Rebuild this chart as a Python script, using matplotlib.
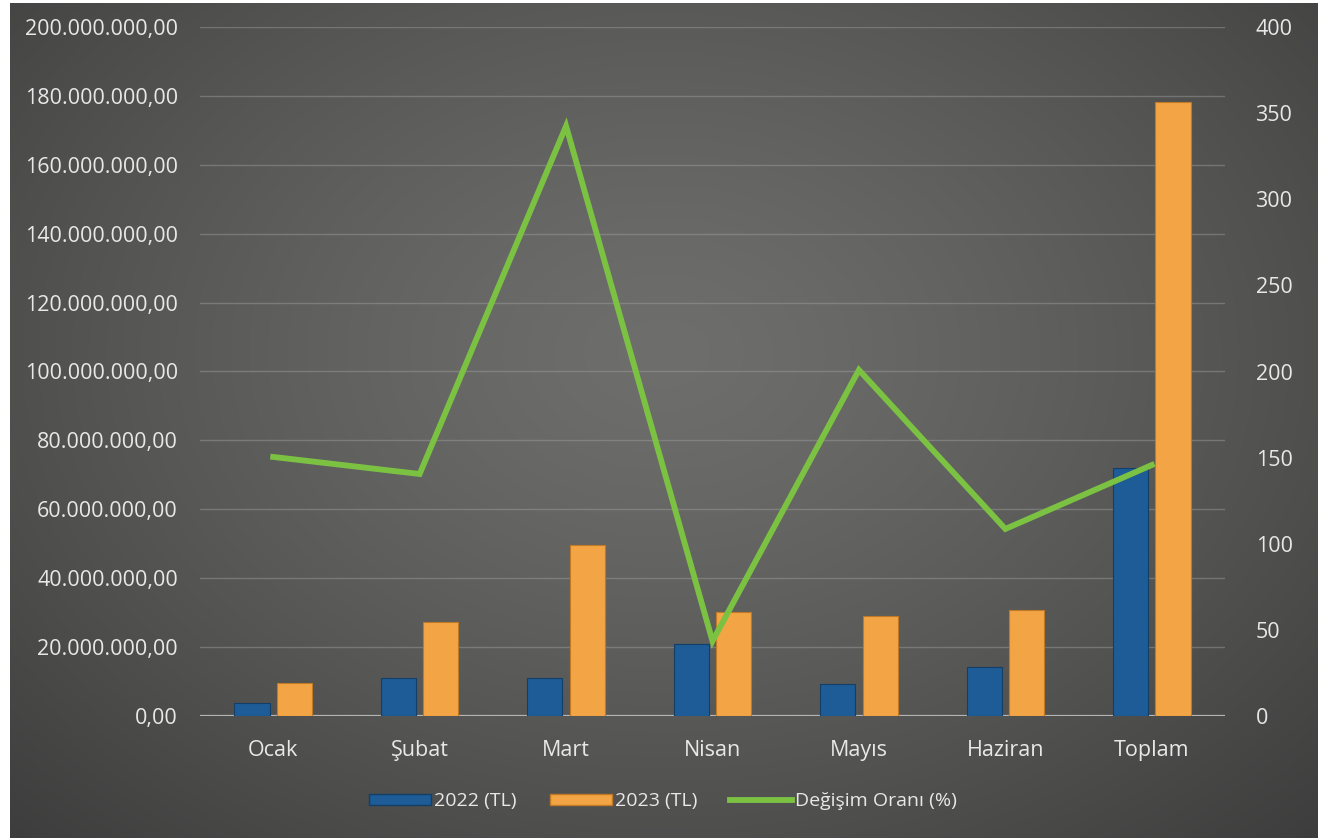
import numpy as np
import matplotlib
matplotlib.use("Agg")
import matplotlib.pyplot as plt
from matplotlib.ticker import FuncFormatter, MultipleLocator
from matplotlib.lines import Line2D
from matplotlib.patches import Patch

categories = ["Ocak", "Şubat", "Mart", "Nisan", "Mayıs", "Haziran", "Toplam"]
values_2022 = [3.8e6, 11.0e6, 11.0e6, 20.9e6, 9.3e6, 14.2e6, 72.0e6]
values_2023 = [9.6e6, 27.3e6, 49.6e6, 30.2e6, 29.0e6, 30.8e6, 178.2e6]
change_pct = [150.4, 140.5, 342.5, 43.5, 200.9, 108.6, 145.7]

W, H = 1337, 838
fig = plt.figure(figsize=(W / 100, H / 100), dpi=100, facecolor="white")
plt.rcParams["font.family"] = ["Open Sans", "DejaVu Sans"]

# background with radial gradient
bg = fig.add_axes([10 / W, 0, (1318 - 10) / W, 1 - 3 / H], zorder=0)
yy, xx = np.mgrid[0:1:400j, 0:1:600j]
r = np.sqrt(((xx - 0.5) / 0.75) ** 2 + ((yy - 0.42) / 0.85) ** 2)
r = np.clip(r, 0, 1)
c0 = np.array([0x6e, 0x6e, 0x6c]) / 255
c1 = np.array([0x3a, 0x3a, 0x3a]) / 255
img = c0[None, None, :] * (1 - r[..., None] ** 1.3) + c1[None, None, :] * (r[..., None] ** 1.3)
bg.imshow(img, aspect="auto", extent=[0, 1, 0, 1], origin="upper")
bg.set_axis_off()

ax = fig.add_axes([200 / W, 1 - 716 / H, (1225 - 200) / W, (716 - 27) / H], zorder=1)
ax.patch.set_alpha(0)
x = np.arange(len(categories))
bw = 0.24
off = 0.145
blue = "#1d5c96"
orange = "#f3a445"
green = "#7cc242"
txt = "#e8e8e8"
fs = 15.5

ax.bar(x - off, values_2022, bw, color=blue, edgecolor="#123e68", linewidth=0.8, zorder=3)
ax.bar(x + off, values_2023, bw, color=orange, edgecolor="#c07a25", linewidth=0.8, zorder=3)
ax.set_ylim(0, 200e6)
ax.set_xlim(-0.5, len(categories) - 0.5)
ax.yaxis.set_major_locator(MultipleLocator(20e6))

def fmt(v, pos):
    s = f"{v:,.2f}"
    return s.replace(",", "X").replace(".", ",").replace("X", ".")

ax.yaxis.set_major_formatter(FuncFormatter(fmt))
ax.set_xticks(x)
ax.set_xticklabels(categories)
ax.tick_params(axis="both", length=0, colors=txt, labelsize=fs)
ax.tick_params(axis="y", pad=16)
ax.tick_params(axis="x", pad=17)
for s in ax.spines.values():
    s.set_visible(False)
ax.grid(axis="y", color="#a0a0a0", linewidth=1.0, alpha=0.45, zorder=0)
ax.axhline(0, color="#b4b4b4", linewidth=1.6, zorder=2)

ax2 = ax.twinx()
ax2.set_zorder(2)
ax2.patch.set_alpha(0)
ax2.plot(x, change_pct, color=green, linewidth=4.2, zorder=4, solid_joinstyle="miter")
ax2.set_ylim(0, 400)
ax2.yaxis.set_major_locator(MultipleLocator(50))
ax2.tick_params(axis="y", length=0, colors=txt, labelsize=fs, pad=22)
for s in ax2.spines.values():
    s.set_visible(False)

handles = [
    Patch(facecolor=blue, edgecolor="#123e68"),
    Patch(facecolor=orange, edgecolor="#c07a25"),
    Line2D([0], [0], color=green, linewidth=4.2),
]
labels = ["2022 (TL)", "2023 (TL)", "Değişim Oranı (%)"]
leg = fig.legend(handles, labels, loc="center", bbox_to_anchor=(0.496, 1 - 801 / H), ncol=3,
                 frameon=False, fontsize=14, labelcolor=txt, handlelength=3.2,
                 handleheight=0.5, columnspacing=1.7, handletextpad=0.15)

fig.savefig("out.png", dpi=100, facecolor="white")
